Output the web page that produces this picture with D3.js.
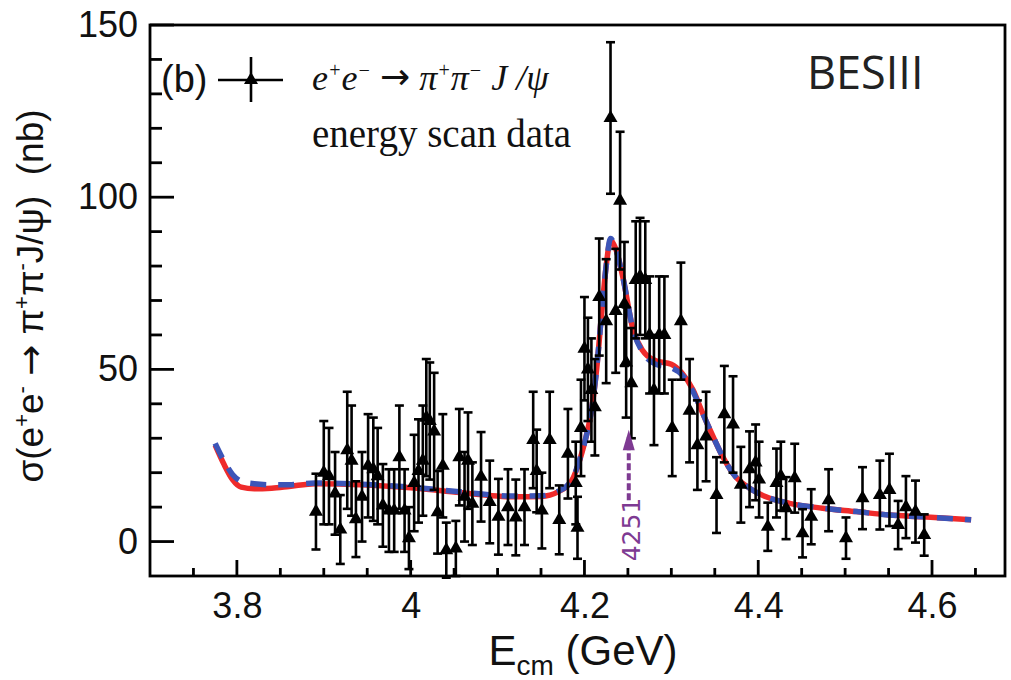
<!DOCTYPE html>
<html>
<head>
<meta charset="utf-8">
<script src="https://cdn.jsdelivr.net/npm/d3@7"></script>
<style>
  body { margin: 0; background: #fff; }
</style>
</head>
<body>
<div id="chart"></div>
<script>
// data points: energy (GeV), cross section (nb), error (nb)
var energy = [3.891, 3.900, 3.906, 3.913, 3.919, 3.927, 3.932, 3.937, 3.944, 3.951,
  3.957, 3.962, 3.968, 3.975, 3.981, 3.987, 3.993, 3.998, 4.004, 4.009,
  4.014, 4.018, 4.022, 4.027, 4.031, 4.037, 4.041, 4.052, 4.056, 4.062,
  4.066, 4.071, 4.081, 4.091, 4.101, 4.112, 4.121, 4.131, 4.141, 4.145,
  4.151, 4.160, 4.171, 4.181, 4.190, 4.192, 4.196, 4.200, 4.204, 4.208,
  4.212, 4.217, 4.225, 4.230, 4.236, 4.241, 4.246, 4.248, 4.254, 4.259,
  4.264, 4.270, 4.275, 4.280, 4.286, 4.292, 4.301, 4.311, 4.321, 4.330,
  4.340, 4.352, 4.361, 4.371, 4.380, 4.390, 4.397, 4.401, 4.411, 4.421,
  4.426, 4.432, 4.442, 4.451, 4.461, 4.481, 4.501, 4.520, 4.540, 4.551,
  4.561, 4.570, 4.581, 4.591]
var xsec = [8.7, 20, 19, 14, 3.5, 26.5, 23.5, 6.5, 13, 22,
  21, 19, 10.5, 9, 9, 24.5, 9, 1, 17, 20.5,
  23.5, 36, 35, 32, 8.5, 22, -2.5, -2, 24.5, 13,
  23.5, 11, 18.8, 11.5, 7.2, 10, 7, 10, 29.5, 20.5,
  9, 29.5, 6.3, 25.5, 17, 4, 33, 56, 50, 44,
  39, 71, 64, 123, 67, 99, 69, 52, 46, 76,
  77, 76, 60, 44, 60, 60, 33, 64, 38, 28,
  30.5, 13.5, 37, 34, 16.5, 21, 23, 18, 4.3, 17,
  19, 9.7, 18.4, 2.4, 7.2, 12, 1, 12.6, 13.5, 15,
  4.8, 10, 8.7, 1.9]
var xsecErr = [11, 15, 14, 12, 10, 17, 16, 11, 13, 15,
  15, 14, 12, 12, 12, 15, 12, 9, 14, 15,
  16, 17, 17, 17, 12, 15, 8, 8, 14, 13,
  14, 12, 13, 12, 11, 11, 11, 11, 14, 12,
  11, 14, 10, 13, 12, 9, 14, 15, 15, 15,
  14, 17, 18, 22, 18, 20, 18, 16, 16, 17,
  17, 17, 17, 16, 17, 17, 14, 17, 15, 13,
  13, 11, 14, 14, 11, 11, 11, 11, 7, 10,
  10, 9, 10, 7, 8, 9, 6, 9, 10, 10.5,
  7, 9, 9, 6]

// fit curves (red solid, blue dashed)
var fitE = [3.775, 3.785, 3.795, 3.805, 3.82, 3.84, 3.86, 3.89, 3.95, 4.00,
  4.05, 4.09, 4.12, 4.15, 4.17, 4.185, 4.195, 4.200, 4.208, 4.214,
  4.220, 4.225, 4.230, 4.236, 4.244, 4.256, 4.267, 4.282, 4.300, 4.312,
  4.325, 4.336, 4.348, 4.359, 4.374, 4.390, 4.409, 4.436, 4.474, 4.513,
  4.551, 4.589, 4.645]
var fitRed = [28, 22.5, 18, 15.8, 15.3, 15.5, 16, 16.8, 16.4, 15.6,
  14.4, 13.4, 13, 13.1, 14.5, 17.5, 24, 28.5, 38, 50,
  67, 80, 87.5, 85, 77, 61.5, 55.5, 52.5, 51.5, 49,
  44, 37.3, 30.5, 24.7, 18.8, 15.5, 13, 11.1, 9.7, 8.7,
  7.7, 7.2, 6.3]
var fitBlue = [28.5, 23.5, 19.5, 17.5, 16.8, 16.5, 16.5, 17, 16.6, 15.8,
  14.6, 13.6, 13.2, 13.3, 14.6, 17.7, 24.2, 28.5, 38, 50,
  67, 80, 88, 85, 77, 61.5, 55, 51.5, 50.5, 48.5,
  43.5, 37.3, 30.5, 24.7, 18.8, 15.5, 13, 11.1, 9.7, 8.7,
  7.7, 7.2, 6.3]

var xMajor = [3.8, 4.0, 4.2, 4.4, 4.6]
var yMajor = [0, 50, 100, 150]
var arrowE = 4.251
var arrowLabel = "4251"

var W = 1011, H = 680
var margin = {top: 25, right: 6, bottom: 104, left: 150},
    width = W - margin.left - margin.right,
    height = H - margin.top - margin.bottom;

var root = d3.select("#chart").append("svg")
    .attr("width", W).attr("height", H)
    .attr("font-family", "Liberation Sans, Arial, sans-serif");
var svg = root.append("g")
    .attr("transform", "translate(" + margin.left + "," + margin.top + ")");

var x = d3.scaleLinear().domain([3.7, 4.684]).range([0, width]);
var y = d3.scaleLinear().domain([-10, 150]).range([height, 0]);

var xMinor = d3.range(3.75, 4.66, 0.05).map(d => +d.toFixed(2)).filter(d => xMajor.indexOf(d) < 0)
var yMinor = d3.range(10, 150, 10).filter(d => yMajor.indexOf(d) < 0)

// tick labels from d3 axes
function styleAxis(g) {
  g.select(".domain").remove();
  g.selectAll(".tick line").remove();
  g.selectAll("text").attr("font-size", 36).attr("fill", "#111")
    .attr("font-family", "Liberation Sans, Arial, sans-serif");
}
svg.append("g").attr("transform", "translate(0," + height + ")")
  .call(d3.axisBottom(x).tickValues(xMajor).tickSize(0).tickPadding(16)
    .tickFormat(d => String(+d.toFixed(1))))
  .call(styleAxis);
svg.append("g")
  .call(d3.axisLeft(y).tickValues(yMajor).tickSize(0).tickPadding(12))
  .call(styleAxis);

// inward ticks
var tk = svg.append("g").attr("stroke", "#000").attr("stroke-width", 2.8);
tk.selectAll(".xt").data(xMajor.map(v => [v, 16]).concat(xMinor.map(v => [v, 8])))
  .join("line").attr("class", "xt")
  .attr("x1", d => x(d[0])).attr("x2", d => x(d[0]))
  .attr("y1", height).attr("y2", d => height - d[1]);
tk.selectAll(".yt").data(yMajor.map(v => [v, 24]).concat(yMinor.map(v => [v, 12])))
  .join("line").attr("class", "yt")
  .attr("y1", d => y(d[0])).attr("y2", d => y(d[0]))
  .attr("x1", 0).attr("x2", d => d[1]);

// frame
svg.append("rect")
  .attr("x", 0).attr("y", 0).attr("width", width).attr("height", height)
  .attr("fill", "none").attr("stroke", "#000").attr("stroke-width", 2.8);

// fit curves
var fitLine = d3.line().x((d, i) => x(fitE[i])).y(d => y(d)).curve(d3.curveMonotoneX);
svg.append("path").attr("d", fitLine(fitRed))
  .attr("fill", "none").attr("stroke", "#ef2b2b").attr("stroke-width", 5.5);
svg.append("path").attr("d", fitLine(fitBlue))
  .attr("fill", "none").attr("stroke", "#3c55b8").attr("stroke-width", 5.5)
  .attr("stroke-dasharray", "16,12");

// data points with error bars
var pts = energy.map((e, i) => ({e: e, v: xsec[i], err: xsecErr[i]}));
var bars = svg.append("g").attr("stroke", "#000").attr("stroke-width", 2.6);
pts.forEach(function(d) {
  var cx = x(d.e), y1 = y(d.v + d.err), y0 = y(d.v - d.err);
  bars.append("line").attr("x1", cx).attr("x2", cx).attr("y1", y1).attr("y2", y0);
  bars.append("line").attr("x1", cx - 4.5).attr("x2", cx + 4.5).attr("y1", y1).attr("y2", y1);
  bars.append("line").attr("x1", cx - 4.5).attr("x2", cx + 4.5).attr("y1", y0).attr("y2", y0);
});
svg.append("g").selectAll("path")
  .data(pts).enter().append("path")
    .attr("d", d3.symbol(d3.symbolTriangle).size(85))
    .attr("transform", d => "translate(" + x(d.e) + "," + y(d.v) + ")")
    .attr("fill", "#000");

// 4251 arrow
var purple = "#7e3a92";
var ax = x(arrowE);
svg.append("line").attr("x1", ax).attr("x2", ax).attr("y1", y(12)).attr("y2", y(27))
  .attr("stroke", purple).attr("stroke-width", 4).attr("stroke-dasharray", "7,3");
svg.append("path")
  .attr("d", "M" + (ax - 6) + "," + y(26.5) + "L" + ax + "," + y(32.5) + "L" + (ax + 6) + "," + y(26.5) + "Z")
  .attr("fill", purple);
svg.append("text").attr("transform", "translate(" + (ax + 11) + "," + y(3.5) + ") rotate(-90)")
  .attr("text-anchor", "middle").attr("font-size", 25).attr("fill", purple)
  .attr("font-family", "DejaVu Sans").text(arrowLabel);

// legend
var lg = root.append("g");
lg.append("text").attr("x", 161).attr("y", 92).attr("font-size", 38).attr("fill", "#111").text("(b)");
lg.append("line").attr("x1", 218).attr("x2", 283).attr("y1", 80).attr("y2", 80).attr("stroke", "#000").attr("stroke-width", 2.6);
lg.append("line").attr("x1", 251).attr("x2", 251).attr("y1", 57).attr("y2", 102).attr("stroke", "#000").attr("stroke-width", 2.6);
lg.append("path").attr("d", d3.symbol(d3.symbolTriangle).size(85)).attr("transform", "translate(251,80)");

var f = lg.append("text").attr("x", 312).attr("y", 90).attr("font-size", 36)
  .attr("font-family", "Liberation Serif").attr("font-style", "italic").attr("fill", "#111")
  .attr("xml:space", "preserve");
f.append("tspan").text("e");
f.append("tspan").attr("dy", -13).attr("font-size", 20).text("+");
f.append("tspan").attr("dy", 13).text("e");
f.append("tspan").attr("dy", -13).attr("font-size", 20).text("\u2212");
f.append("tspan").attr("dy", 13).text(" ");
f.append("tspan").attr("font-style", "normal").attr("font-family", "DejaVu Sans")
  .attr("font-size", 36).attr("dy", -1).text("\u2192");
f.append("tspan").attr("dy", 1).text(" \u03c0");
f.append("tspan").attr("dy", -13).attr("font-size", 20).text("+");
f.append("tspan").attr("dy", 13).text("\u03c0");
f.append("tspan").attr("dy", -13).attr("font-size", 20).text("\u2212");
f.append("tspan").attr("dy", 13).text(" J /\u03c8");

lg.append("text").attr("x", 312).attr("y", 147).attr("font-size", 39).attr("fill", "#111")
  .attr("font-family", "Liberation Serif").text("energy scan data");

lg.append("text").attr("x", 807).attr("y", 89).attr("font-size", 45)
  .attr("font-family", "Open Sans").attr("fill", "#222").text("BESIII");

// axis titles
var yl = lg.append("text").attr("transform", "translate(43,296) rotate(-90)")
  .attr("text-anchor", "middle").attr("font-size", 37).attr("fill", "#111");
yl.append("tspan").text("\u03c3(e");
yl.append("tspan").attr("dy", -14).attr("font-size", 22).text("+");
yl.append("tspan").attr("dy", 14).text("e");
yl.append("tspan").attr("dy", -14).attr("font-size", 22).text("-");
yl.append("tspan").attr("dy", 14).text("\u00a0");
yl.append("tspan").attr("font-family", "DejaVu Sans").text("\u2192");
yl.append("tspan").text("\u00a0\u03c0");
yl.append("tspan").attr("dy", -14).attr("font-size", 22).text("+");
yl.append("tspan").attr("dy", 14).text("\u03c0");
yl.append("tspan").attr("dy", -14).attr("font-size", 22).text("-");
yl.append("tspan").attr("dy", 14).text("J/\u03c8)\u00a0\u00a0(nb)");

var xl = lg.append("text").attr("x", 583).attr("y", 665)
  .attr("text-anchor", "middle").attr("font-size", 42).attr("fill", "#111");
xl.append("tspan").text("E");
xl.append("tspan").attr("dy", 10).attr("font-size", 28).text("cm");
xl.append("tspan").attr("dy", -10).text(" (GeV)");
</script>
</body>
</html>
